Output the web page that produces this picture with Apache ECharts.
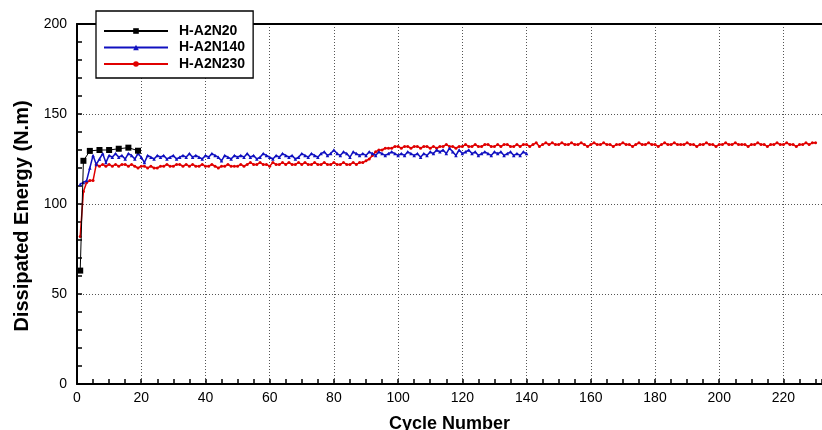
<!DOCTYPE html>
<html><head><meta charset="utf-8">
<script src="https://cdn.jsdelivr.net/npm/echarts@6/dist/echarts.min.js"></script>
<style>html,body{margin:0;padding:0;background:#fff}#c{width:822px;height:430px}</style>
</head><body><div id="c"></div>
<script>
// Series names
const seriesNames = ['H-A2N20', 'H-A2N140', 'H-A2N230'];
// H-A2N20: [cycle, energy] at plotted markers
const blackCycles = [1, 2, 4, 7, 10, 13, 16, 19];
const blackValues = [63, 124, 129.5, 130, 130, 130.7, 131.3, 129.6];
// H-A2N140: cycles 1..140
const blueValues = [
 111,112,113,120,127,122,125,128,123,127,
 126,128,126,127,125,128,127,125,128,126,
 123,127,126,125,127,126,127,125,126,127,
 125,126,127,126,128,126,127,126,125,127,
 126,128,127,126,124,127,126,125,127,126,
 127,126,128,126,127,125,126,128,127,126,
 125,127,126,128,127,126,127,125,126,128,
 127,126,128,127,126,128,129,127,128,130,
 128,127,129,128,126,129,128,127,128,127,
 129,128,127,129,128,127,128,129,128,127,
 128,127,129,128,127,128,126,128,127,129,
 128,130,129,130,128,131,129,127,130,128,
 129,130,128,129,127,128,129,128,127,129,
 128,129,127,128,129,127,128,127,129,128
];
// H-A2N230: cycles 1..230
const redValues = [
 82,107,112,113,113,122,121,122,121,122,
 121,122,121,122,122,121,122,121,120,121,
 121,120,121,120,120,121,121,122,121,121,
 122,122,121,122,121,122,121,121,122,121,
 121,122,121,120,121,121,122,121,121,121,
 122,121,122,123,122,122,123,122,122,121,
 123,122,122,123,122,123,122,122,123,122,
 123,122,122,123,122,122,123,122,122,123,
 122,122,123,122,122,123,122,123,123,124,
 125,127,129,130,130,131,131,131,132,132,
 131,132,132,131,132,132,131,132,132,131,
 132,131,132,132,133,132,132,131,132,132,
 133,132,132,133,132,132,133,133,132,132,
 133,132,133,133,132,132,133,132,133,133,
 132,133,134,132,133,134,133,134,133,133,
 134,133,133,134,133,133,134,133,132,133,
 134,133,133,134,133,133,132,133,133,134,
 133,133,132,133,134,133,133,134,133,133,
 132,133,134,133,133,134,133,133,133,134,
 133,133,132,133,133,134,133,133,132,133,
 133,134,133,133,134,133,133,133,132,133,
 133,134,133,133,132,133,133,134,133,133,
 134,133,133,132,133,133,134,133,134,134
];
// Axis settings
const xTitle = 'Cycle Number';
const yTitle = 'Dissipated Energy (N.m)';

const blackData = blackCycles.map((c, i) => [c, blackValues[i]]);
const blueData = blueValues.map((v, i) => [i + 1, v]);
const redData = redValues.map((v, i) => [i + 1, v]);

const font = 'Liberation Sans, Arial, sans-serif';
const chart = echarts.init(document.getElementById('c'), null, {renderer: 'canvas'});
const splitLine = {show: true, lineStyle: {type: [1, 2], color: '#555', width: 1}};
chart.setOption({
  animation: false,
  backgroundColor: '#fff',
  grid: {left: 77, right: 0, top: 24, bottom: 46, outerBoundsMode: 'none', containLabel: false},
  legend: {
    orient: 'vertical', left: 96, top: 11,
    padding: [13, 8, 7, 7],
    backgroundColor: '#fff', borderColor: '#000', borderWidth: 1.3,
    itemWidth: 64, itemHeight: 7, itemGap: 2.5,
    textStyle: {fontFamily: font, fontSize: 14, fontWeight: 'bold', color: '#000', padding: [0, 0, 0, 6]},
    data: seriesNames
  },
  xAxis: [{
    type: 'value', min: 0, max: 232, interval: 20,
    name: xTitle, nameLocation: 'middle', nameGap: 31,
    nameTextStyle: {fontFamily: font, fontSize: 18, fontWeight: 'bold', color: '#000'},
    axisLine: {show: true, onZero: false, lineStyle: {color: '#000', width: 2}},
    axisTick: {show: true, inside: true, length: 5, lineStyle: {color: '#000', width: 1.5}},
    minorTick: {show: true, splitNumber: 4, length: 5, lineStyle: {color: '#000', width: 1.5}},
    axisLabel: {fontFamily: font, fontSize: 14, color: '#000', margin: 7, showMaxLabel: false},
    splitLine: splitLine
  }, {
    type: 'value', min: 0, max: 232, position: 'top',
    axisLine: {show: true, onZero: false, lineStyle: {color: '#000', width: 2}},
    axisTick: {show: false}, axisLabel: {show: false}, splitLine: {show: false}
  }],
  yAxis: {
    type: 'value', min: 0, max: 200, interval: 50,
    name: yTitle, nameLocation: 'middle', nameGap: 43,
    nameTextStyle: {fontFamily: font, fontSize: 20, fontWeight: 'bold', color: '#000', padding: [0, 24, 0, 0]},
    axisLine: {show: true, onZero: false, lineStyle: {color: '#000', width: 2}},
    axisTick: {show: true, inside: true, length: 5, lineStyle: {color: '#000', width: 1.5}},
    minorTick: {show: true, splitNumber: 5, length: 5, lineStyle: {color: '#000', width: 1.5}},
    axisLabel: {fontFamily: font, fontSize: 14, color: '#000', margin: 10},
    splitLine: splitLine
  },
  series: [
    {name: seriesNames[0], type: 'line', data: blackData, xAxisIndex: 0,
     symbol: 'rect', symbolSize: 6, showAllSymbol: true,
     itemStyle: {color: '#000'}, lineStyle: {color: '#000', width: 1}, z: 4},
    {name: seriesNames[1], type: 'line', data: blueData, xAxisIndex: 0,
     symbol: 'triangle', symbolSize: 3.5, showAllSymbol: true,
     itemStyle: {color: '#1010c0'}, lineStyle: {color: '#1010c0', width: 1.5}, z: 3},
    {name: seriesNames[2], type: 'line', data: redData, xAxisIndex: 0,
     symbol: 'circle', symbolSize: 3, showAllSymbol: true,
     itemStyle: {color: '#e00000'}, lineStyle: {color: '#e00000', width: 1.5}, z: 2}
  ]
});
</script></body></html>
